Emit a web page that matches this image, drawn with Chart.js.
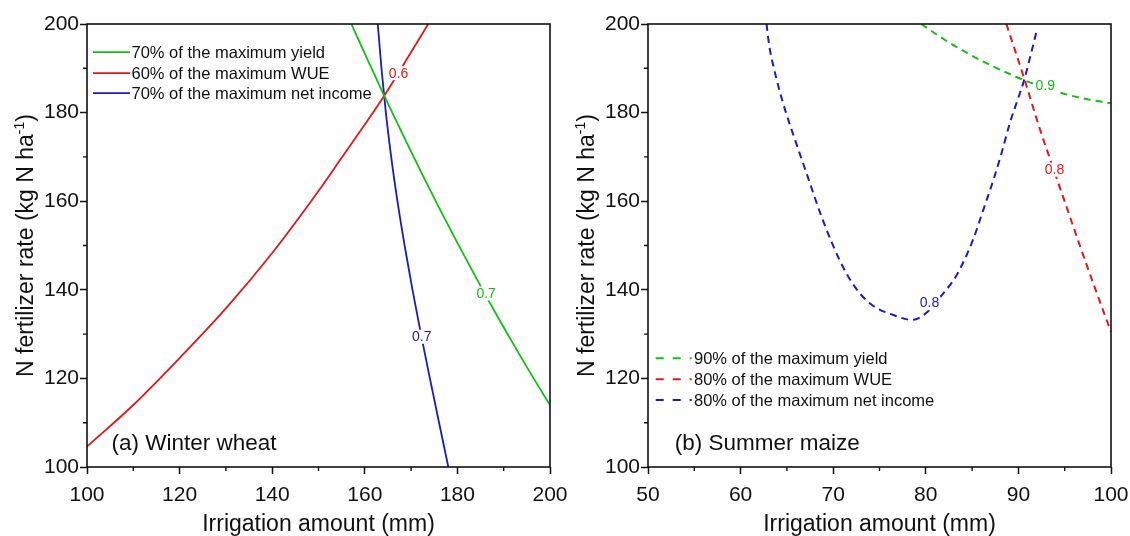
<!DOCTYPE html>
<html>
<head>
<meta charset="utf-8">
<script src="https://cdn.jsdelivr.net/npm/chart.js@4.4.1/dist/chart.umd.min.js"></script>
<style>
  html, body { margin: 0; padding: 0; background: #ffffff; }
  #wrap { position: relative; width: 1130px; height: 536px; overflow: hidden; background: #fff; }
  canvas { position: absolute; top: 0; }
  #c1 { left: 0px; }
  #c2 { left: 565px; }
</style>
</head>
<body>
<div id="wrap">
  <canvas id="c1" width="600" height="536"></canvas>
  <canvas id="c2" width="565" height="536"></canvas>
</div>
<script>
// ================= DATA =================
// Panel (a) Winter wheat — solid contour lines
const wheatNames = ['70% of the maximum yield', '60% of the maximum WUE', '70% of the maximum net income'];
const wheatYieldX  = [157.1, 160.0, 164.2, 168.0, 172.0, 176.0, 180.0, 184.0, 188.0, 192.0, 196.0, 200.0];
const wheatYieldY  = [200.0, 193.3, 183.8, 175.5, 166.9, 158.6, 150.6, 142.8, 135.2, 127.9, 120.8, 114.0];
const wheatWueX    = [100.0, 110.0, 120.0, 130.0, 140.0, 150.0, 155.0, 160.0, 164.2, 169.4, 173.7];
const wheatWueY    = [104.6, 114.0, 124.6, 135.8, 148.3, 162.3, 169.8, 177.3, 183.8, 192.6, 200.0];
const wheatIncomeX = [162.8, 163.6, 164.55, 165.7, 167.05, 168.6, 170.3, 172.13, 174.06, 176.04, 178.04];
const wheatIncomeY = [200.0, 190.0, 180.0, 170.0, 160.0, 150.0, 140.0, 130.0, 120.0, 110.0, 100.0];
// contour labels (a)
const wheatLabelText   = ['0.6', '0.7', '0.7'];
const wheatLabelSeries = [1, 0, 2];
const wheatLabelX      = [167.3, 186.2, 172.3];
const wheatLabelY      = [188.9, 139.2, 129.4];
const wheatXTicks = [100, 120, 140, 160, 180, 200];
const wheatXMinor = [110, 130, 150, 170, 190];

// Panel (b) Summer maize — dashed contour lines
const maizeNames = ['90% of the maximum yield', '80% of the maximum WUE', '80% of the maximum net income'];
const maizeYieldX  = [79.5, 82.0, 84.5, 87.0, 89.5, 92.0, 94.5, 97.0, 100.0];
const maizeYieldY  = [200.0, 196.5, 193.4, 190.7, 188.3, 186.2, 184.5, 183.2, 182.1];
const maizeWueX    = [88.7, 90.7, 92.3, 94.0, 95.4, 96.7, 98.3, 100.0];
const maizeWueY    = [200.0, 187.2, 176.4, 166.0, 157.5, 149.6, 140.2, 130.5];
const maizeIncomeX = [62.8, 63.1, 63.6, 64.2, 64.9, 66.0, 67.3, 68.6, 69.9, 71.4, 72.8, 74.3, 76.5, 78.5, 80.4, 81.5, 83.3, 85.1, 86.2, 87.3, 88.2, 89.1, 89.9, 90.6, 91.3, 92.0];
const maizeIncomeY = [200.0, 195.0, 190.0, 185.0, 180.0, 173.1, 165.2, 157.3, 150.4, 143.8, 139.4, 136.4, 134.3, 133.2, 135.4, 138.2, 143.2, 151.3, 158.0, 164.8, 171.0, 177.8, 182.8, 187.2, 192.8, 198.7];
// contour labels (b)
const maizeLabelText   = ['0.9', '0.8', '0.8'];
const maizeLabelSeries = [0, 1, 2];
const maizeLabelX      = [92.9, 93.9, 80.4];
const maizeLabelY      = [186.1, 167.1, 137.0];
const maizeXTicks = [50, 60, 70, 80, 90, 100];
const maizeXMinor = [55, 65, 75, 85, 95];

const yTicks = [100, 120, 140, 160, 180, 200];
const yMinor = [110, 130, 150, 170, 190];

// ================= STYLE =================
const FONT = '"Liberation Sans", Arial, Helvetica, sans-serif';
const COLORS = ['#12c012', '#e01818', '#1a1ac8'];
const AXIS = '#111111';

// ================= PLUGIN: frame, minor ticks, legend, labels, y-title =================
const decorPlugin = {
  id: 'decor',
  afterDatasetsDraw(chart, args, o) {
    const ctx = chart.ctx;
    const xs = chart.scales.x, ys = chart.scales.y;
    ctx.save();
    ctx.font = '14px ' + FONT;
    ctx.textAlign = 'center';
    ctx.textBaseline = 'middle';
    o.labelText.forEach((t, i) => {
      const px = xs.getPixelForValue(o.labelX[i]);
      const py = ys.getPixelForValue(o.labelY[i]);
      const w = ctx.measureText(t).width;
      ctx.fillStyle = '#ffffff';
      ctx.fillRect(px - w / 2 - 1, py - 7, w + 2, 14);
      ctx.fillStyle = COLORS[o.labelSeries[i]];
      ctx.fillText(t, px, py + 0.5);
    });
    ctx.restore();
  },
  afterDraw(chart, args, o) {
    const ctx = chart.ctx;
    const a = chart.chartArea;
    const xs = chart.scales.x, ys = chart.scales.y;
    ctx.save();
    ctx.strokeStyle = AXIS;
    ctx.lineWidth = 1.6;
    ctx.strokeRect(a.left, a.top, a.right - a.left, a.bottom - a.top);
    ctx.lineWidth = 1.4;
    ctx.beginPath();
    o.xMinor.forEach(v => {
      const p = xs.getPixelForValue(v);
      ctx.moveTo(p, a.bottom); ctx.lineTo(p, a.bottom + 4);
    });
    o.yMinor.forEach(v => {
      const p = ys.getPixelForValue(v);
      ctx.moveTo(a.left, p); ctx.lineTo(a.left - 4, p);
    });
    ctx.stroke();

    // legend
    ctx.font = '16.5px ' + FONT;
    ctx.textBaseline = 'middle';
    ctx.textAlign = 'left';
    o.names.forEach((n, i) => {
      const y = o.legendFromTop ? a.top + o.legendRows[i] : a.bottom - o.legendRows[i];
      ctx.strokeStyle = COLORS[i];
      ctx.lineWidth = o.dash ? 2 : 1.8;
      ctx.setLineDash(o.dash ? [8, 9] : []);
      ctx.beginPath();
      ctx.moveTo(a.left + o.legendLine[0], y);
      ctx.lineTo(a.left + o.legendLine[1], y);
      ctx.stroke();
      ctx.setLineDash([]);
      ctx.fillStyle = '#111';
      ctx.fillText(n, a.left + o.legendText, y + 1);
    });

    // panel label
    ctx.font = '22.5px ' + FONT;
    ctx.fillStyle = '#111';
    ctx.textBaseline = 'middle';
    ctx.fillText(o.panel, a.left + o.panelDx, a.bottom - 24 + 1);

    // y-axis title with superscript
    const cx = a.left - 62;
    const cy = (a.top + a.bottom) / 2;
    ctx.translate(cx, cy);
    ctx.rotate(-Math.PI / 2);
    const main = 'N fertilizer rate (kg N ha';
    const sup = '-1';
    const end = ')';
    ctx.font = '23px ' + FONT;
    const w1 = ctx.measureText(main).width;
    const w3 = ctx.measureText(end).width;
    ctx.font = '14px ' + FONT;
    const w2 = ctx.measureText(sup).width;
    const total = w1 + w2 + w3;
    const x0 = -total / 2;
    ctx.textAlign = 'left';
    ctx.textBaseline = 'alphabetic';
    ctx.fillStyle = '#111';
    ctx.font = '23px ' + FONT;
    ctx.fillText(main, x0, 8);
    ctx.font = '14px ' + FONT;
    ctx.fillText(sup, x0 + w1, -1);
    ctx.font = '23px ' + FONT;
    ctx.fillText(end, x0 + w1 + w2, 8);
    ctx.restore();
  }
};

function makeChart(id, cfg) {
  const datasets = cfg.series.map((s, i) => ({
    label: cfg.names[i],
    data: s.x.map((x, j) => ({ x: x, y: s.y[j] })),
    showLine: true,
    pointRadius: 0,
    borderColor: COLORS[i],
    backgroundColor: COLORS[i],
    borderWidth: cfg.dash ? 2 : 1.8,
    borderDash: cfg.dash ? [7, 5] : [],
    fill: false,
    cubicInterpolationMode: 'monotone'
  }));
  return new Chart(document.getElementById(id), {
    type: 'scatter',
    data: { datasets },
    options: {
      responsive: false,
      animation: false,
      events: [],
      layout: { padding: { top: 24, right: cfg.padRight, left: 0, bottom: 0 } },
      plugins: {
        legend: { display: false },
        tooltip: { enabled: false },
        decor: cfg.decor
      },
      scales: {
        x: {
          type: 'linear',
          min: cfg.xTicks[0],
          max: cfg.xTicks[cfg.xTicks.length - 1],
          afterBuildTicks(s) { s.ticks = cfg.xTicks.map(v => ({ value: v })); },
          ticks: { color: '#111', font: { family: FONT, size: 21 }, padding: 9, maxRotation: 0, autoSkip: false },
          grid: { drawOnChartArea: false, drawTicks: true, tickLength: 7, tickWidth: 1.5, tickColor: AXIS },
          border: { display: false },
          title: { display: true, text: 'Irrigation amount (mm)', color: '#111', font: { family: FONT, size: 23 }, padding: { top: 0, bottom: -2 } },
          afterFit(s) { s.height = 69; s.paddingLeft = 0; s.paddingRight = 0; }
        },
        y: {
          type: 'linear',
          min: 100,
          max: 200,
          afterBuildTicks(s) { s.ticks = yTicks.map(v => ({ value: v })); },
          ticks: { color: '#111', font: { family: FONT, size: 21 }, padding: 1, autoSkip: false },
          grid: { drawOnChartArea: false, drawTicks: true, tickLength: 7, tickWidth: 1.5, tickColor: AXIS },
          border: { display: false },
          title: { display: false },
          afterFit(s) { s.width = cfg.left; s.paddingTop = 0; s.paddingBottom = 0; }
        }
      }
    },
    plugins: [decorPlugin]
  });
}

makeChart('c1', {
  names: wheatNames,
  series: [
    { x: wheatYieldX, y: wheatYieldY },
    { x: wheatWueX, y: wheatWueY },
    { x: wheatIncomeX, y: wheatIncomeY }
  ],
  dash: false,
  left: 87,
  padRight: 50,
  xTicks: wheatXTicks,
  decor: {
    names: wheatNames, dash: false,
    xMinor: wheatXMinor, yMinor: yMinor,
    legendFromTop: true, legendRows: [28.2, 49.2, 69.2], legendLine: [6, 43], legendText: 44.5,
    panel: '(a) Winter wheat', panelDx: 24.5,
    labelText: wheatLabelText, labelSeries: wheatLabelSeries, labelX: wheatLabelX, labelY: wheatLabelY
  }
});

makeChart('c2', {
  names: maizeNames,
  series: [
    { x: maizeYieldX, y: maizeYieldY },
    { x: maizeWueX, y: maizeWueY },
    { x: maizeIncomeX, y: maizeIncomeY }
  ],
  dash: true,
  left: 83,
  padRight: 19,
  xTicks: maizeXTicks,
  decor: {
    names: maizeNames, dash: true,
    xMinor: maizeXMinor, yMinor: yMinor,
    legendFromTop: false, legendRows: [108.7, 87.7, 67], legendLine: [7.7, 43.7], legendText: 46,
    panel: '(b) Summer maize', panelDx: 26.7,
    labelText: maizeLabelText, labelSeries: maizeLabelSeries, labelX: maizeLabelX, labelY: maizeLabelY
  }
});
</script>
</body>
</html>
